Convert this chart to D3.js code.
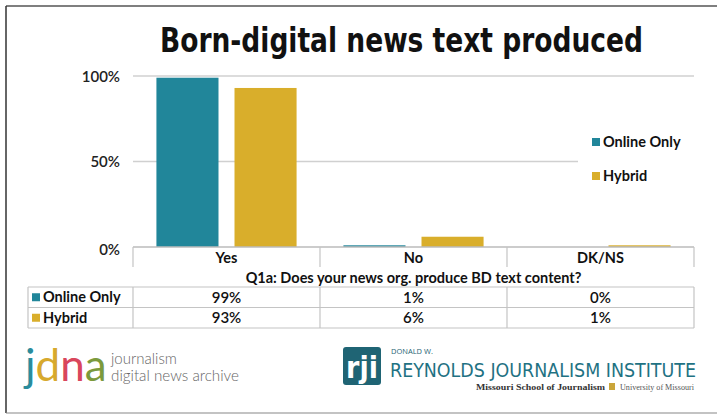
<!DOCTYPE html>
<html>
<head>
<meta charset="utf-8">
<script src="https://cdn.jsdelivr.net/npm/d3@7"></script>
<style>
  html, body { margin: 0; padding: 0; background: #fff; }
  svg { display: block; }
</style>
</head>
<body>
<div id="chart"></div>
<script>
// data
const categories = ['Yes', 'No', 'DK/NS'];
const seriesNames = ['Online Only', 'Hybrid'];
const onlineOnly = [99, 1, 0];
const hybrid = [93, 6, 1];
const yTicks = [0, 50, 100];
const axisTitle = 'Q1a: Does your news org. produce BD text content?';

const W = 717, H = 419;
const colors = { 'Online Only': '#21869a', 'Hybrid': '#d9ae2b' };
const seriesValues = { 'Online Only': onlineOnly, 'Hybrid': hybrid };
const font = 'Lato, "Open Sans", sans-serif';
const narrow = '"Liberation Sans Narrow", "DejaVu Sans Condensed", "Liberation Sans", sans-serif';

const svg = d3.select('#chart').append('svg')
    .attr('width', W)
    .attr('height', H)
    .attr('viewBox', `0 0 ${W} ${H}`);

// outer frame (left, top, bottom)
svg.append('line').attr('x1', 6).attr('y1', 6).attr('x2', W).attr('y2', 6)
    .attr('stroke', '#555').attr('stroke-width', 1.5);
svg.append('line').attr('x1', 6).attr('y1', 6).attr('x2', 6).attr('y2', 413)
    .attr('stroke', '#333').attr('stroke-width', 1.5);
svg.append('line').attr('x1', 6).attr('y1', 413).attr('x2', W).attr('y2', 413)
    .attr('stroke', '#888').attr('stroke-width', 1.2);

// title
svg.append('text')
    .attr('x', 160).attr('y', 52)
    .attr('textLength', 483)
    .attr('lengthAdjust', 'spacingAndGlyphs')
    .style('font-family', narrow)
    .style('font-weight', 700)
    .style('font-size', '33px')
    .style('fill', '#111')
    .text('Born-digital news text produced');

// scales
const x0 = d3.scaleBand().domain(categories).range([133, 694]);
const x1 = d3.scaleBand().domain(seriesNames).range([0, x0.bandwidth()])
    .paddingInner(0.205).paddingOuter(0.3);
const y = d3.scaleLinear().domain([0, 100]).range([247, 76]);

// gridlines
const grid = svg.append('g');
grid.selectAll('line')
    .data(yTicks.filter(d => d > 0))
    .join('line')
    .attr('x1', 133).attr('x2', 694)
    .attr('y1', d => y(d)).attr('y2', d => y(d))
    .attr('stroke', '#d0d0d0').attr('stroke-width', 1.5);

// y axis labels
const yAxis = svg.append('g')
    .attr('transform', 'translate(120,0)')
    .call(d3.axisLeft(y).tickValues(yTicks).tickFormat(d => d + '%').tickSize(0).tickPadding(0));
yAxis.select('.domain').remove();
yAxis.selectAll('text')
    .attr('dy', '0.35em')
    .style('font-family', font)
    .style('font-weight', 600)
    .style('font-size', '15px')
    .style('fill', '#222');
yAxis.selectAll('.tick').filter(d => d === 0).select('text').attr('dy', '0.5em');

// bars
const barGroups = svg.append('g')
    .selectAll('g')
    .data(categories)
    .join('g')
    .attr('transform', d => `translate(${x0(d)},0)`);

barGroups.selectAll('rect')
    .data((c, i) => seriesNames.map(s => ({ s, v: seriesValues[s][i] })))
    .join('rect')
    .attr('x', d => x1(d.s))
    .attr('width', x1.bandwidth())
    .attr('y', d => y(d.v))
    .attr('height', d => y(0) - y(d.v))
    .attr('fill', d => colors[d.s]);

// legend (white box hides gridline)
const legend = svg.append('g');
legend.append('rect').attr('x', 578).attr('y', 120).attr('width', 116).attr('height', 75).attr('fill', '#fff');
const li = legend.selectAll('g.item')
    .data(seriesNames)
    .join('g')
    .attr('class', 'item')
    .attr('transform', (d, i) => `translate(592,${142 + i * 34})`);
li.append('rect').attr('x', 0).attr('y', -4).attr('width', 8).attr('height', 8)
    .attr('fill', d => colors[d]);
li.append('text').attr('x', 11).attr('dy', '0.35em')
    .style('font-family', font).style('font-weight', 700).style('font-size', '14.5px')
    .style('fill', '#111')
    .text(d => d);

// data table under the axis
const tLeft = 28, tRight = 694;
const rowTop = 247, catRowB = 267, titleRowB = 287, rowH = 20.5;
const lineColor = '#c4c4c4';
const table = svg.append('g');

// horizontal lines
table.append('line').attr('x1', 133).attr('x2', tRight).attr('y1', rowTop).attr('y2', rowTop)
    .attr('stroke', '#bbb').attr('stroke-width', 1.3);
[titleRowB, titleRowB + rowH, titleRowB + 2 * rowH].forEach(yy => {
    table.append('line').attr('x1', tLeft).attr('x2', tRight).attr('y1', yy).attr('y2', yy)
        .attr('stroke', lineColor).attr('stroke-width', 1.2);
});
// vertical lines
const vx = [133, ...categories.map(c => x0(c) + x0.bandwidth())];
vx.forEach(xx => {
    table.append('line').attr('x1', xx).attr('x2', xx).attr('y1', rowTop).attr('y2', catRowB)
        .attr('stroke', lineColor).attr('stroke-width', 1.2);
    table.append('line').attr('x1', xx).attr('x2', xx).attr('y1', titleRowB).attr('y2', titleRowB + 2 * rowH)
        .attr('stroke', lineColor).attr('stroke-width', 1.2);
});
table.append('line').attr('x1', tLeft).attr('x2', tLeft).attr('y1', titleRowB).attr('y2', titleRowB + 2 * rowH)
    .attr('stroke', lineColor).attr('stroke-width', 1.2);

// category labels
table.selectAll('text.cat')
    .data(categories)
    .join('text')
    .attr('class', 'cat')
    .attr('x', d => x0(d) + x0.bandwidth() / 2)
    .attr('y', 258).attr('dy', '0.35em')
    .attr('text-anchor', 'middle')
    .style('font-family', font).style('font-weight', 700).style('font-size', '14.5px')
    .style('fill', '#111')
    .text(d => d);

// axis title row
table.append('text')
    .attr('x', (133 + tRight) / 2).attr('y', 278).attr('dy', '0.35em')
    .attr('text-anchor', 'middle')
    .style('font-family', font).style('font-weight', 700).style('font-size', '14.5px')
    .style('fill', '#111')
    .text(axisTitle);

// series rows
seriesNames.forEach((s, r) => {
    const cy = titleRowB + rowH * r + rowH / 2;
    table.append('rect').attr('x', 32).attr('y', cy - 4).attr('width', 8).attr('height', 8)
        .attr('fill', colors[s]);
    table.append('text').attr('x', 43).attr('y', cy).attr('dy', '0.35em')
        .style('font-family', font).style('font-weight', 700).style('font-size', '14.5px')
        .style('fill', '#111')
        .text(s);
    table.selectAll(null)
        .data(seriesValues[s])
        .join('text')
        .attr('x', (d, i) => x0(categories[i]) + x0.bandwidth() / 2)
        .attr('y', cy).attr('dy', '0.35em')
        .attr('text-anchor', 'middle')
        .style('font-family', font).style('font-weight', 600).style('font-size', '15px')
        .style('fill', '#111')
        .text(d => d + '%');
});

// footer: jdna logo
const jdna = svg.append('text')
    .attr('x', 25).attr('y', 381)
    .style('font-family', font)
    .style('font-weight', 400)
    .style('font-size', '44px');
[['j', '#2a8c9c'], ['d', '#d7a92d'], ['n', '#d9465c'], ['a', '#7c9a3c']].forEach(([ch, col]) => {
    jdna.append('tspan').attr('fill', col).text(ch);
});
svg.append('text').attr('x', 111).attr('y', 364)
    .style('font-family', font).style('font-weight', 300).style('font-size', '15px').style('fill', '#666')
    .text('journalism');
svg.append('text').attr('x', 111).attr('y', 381)
    .attr('textLength', 128).attr('lengthAdjust', 'spacingAndGlyphs')
    .style('font-family', font).style('font-weight', 300).style('font-size', '15px').style('fill', '#666')
    .text('digital news archive');

// footer: rji logo
svg.append('rect').attr('x', 343).attr('y', 347).attr('width', 38).attr('height', 38)
    .attr('rx', 3).attr('fill', '#1f6474');
svg.append('text').attr('x', 362).attr('y', 378).attr('text-anchor', 'middle')
    .style('font-family', narrow)
    .style('font-weight', 700).style('font-size', '30px').style('fill', '#fff')
    .text('rji');
svg.append('text').attr('x', 391).attr('y', 354)
    .style('font-family', '"Open Sans", sans-serif').style('font-size', '7.5px').style('fill', '#1f6474')
    .text('DONALD W.');
svg.append('text').attr('x', 390).attr('y', 377)
    .attr('textLength', 306).attr('lengthAdjust', 'spacingAndGlyphs')
    .style('font-family', narrow).style('font-size', '20px').style('fill', '#1f7283')
    .text('REYNOLDS JOURNALISM INSTITUTE');
svg.append('text').attr('x', 476).attr('y', 390)
    .attr('textLength', 129).attr('lengthAdjust', 'spacingAndGlyphs')
    .style('font-family', '"Liberation Serif", serif').style('font-weight', 700)
    .style('font-size', '8.5px').style('fill', '#333')
    .text('Missouri School of Journalism');
svg.append('rect').attr('x', 609).attr('y', 383).attr('width', 6).attr('height', 7).attr('fill', '#caa53a');
svg.append('text').attr('x', 620).attr('y', 390)
    .attr('textLength', 74).attr('lengthAdjust', 'spacingAndGlyphs')
    .style('font-family', '"Liberation Serif", serif').style('font-size', '8.5px').style('fill', '#555')
    .text('University of Missouri');
</script>
</body>
</html>
